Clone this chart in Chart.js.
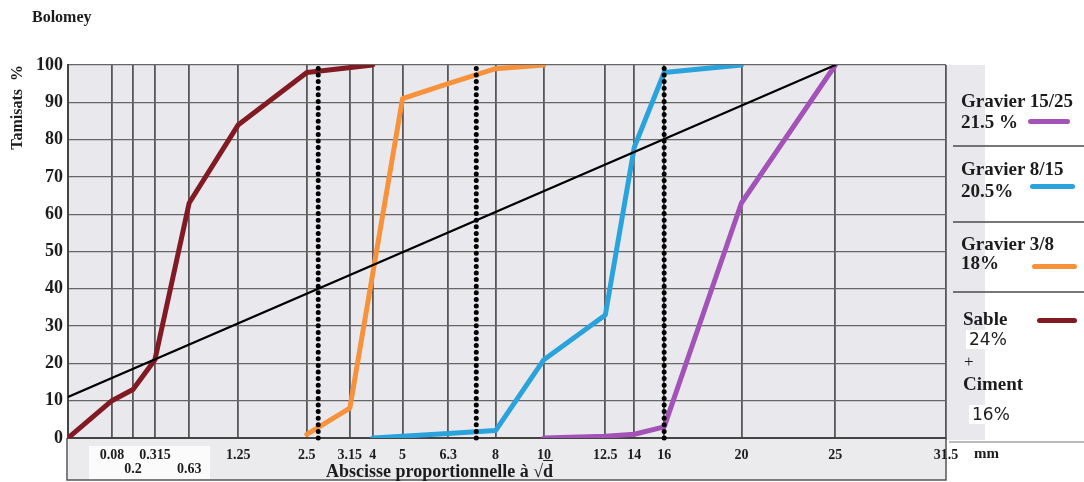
<!DOCTYPE html>
<html lang="fr">
<head>
<meta charset="utf-8">
<title>Bolomey</title>
<script src="https://cdn.jsdelivr.net/npm/chart.js@4.4.1/dist/chart.umd.min.js"></script>
<style>
html, body { margin: 0; padding: 0; background: #fff; }
#wrap { position: relative; width: 1084px; height: 482px; overflow: hidden; }
#wrap canvas { position: absolute; left: 0; top: 0; }
.t { position: absolute; white-space: nowrap; line-height: 1; color: #1c1c1c;
     font-family: "Liberation Serif", "Times New Roman", serif; font-weight: bold; }
.s { font-family: "DejaVu Sans", sans-serif; font-weight: normal; background: #fff; padding: 1px 3px; }
.sw { position: absolute; height: 5px; border-radius: 3px; }
</style>
</head>
<body>
<div id="wrap">
  <canvas id="c" width="1084" height="482"></canvas>

  <div class="t" style="left:32px;top:9px;font-size:16px;">Bolomey</div>

  <div class="t" style="left:326px;top:462px;font-size:18px;">Abscisse proportionnelle à √<span style="text-decoration:overline;">d</span></div>
  <div class="t" style="left:974px;top:446px;font-size:15px;">mm</div>

  <!-- legend panel -->
  <div class="t" style="left:961px;top:91px;font-size:19px;">Gravier 15/25</div>
  <div class="t" style="left:961px;top:112px;font-size:19px;">21.5 %</div>
  <div class="sw" style="left:1028px;top:119px;width:42px;background:#a352b8;"></div>

  <div class="t" style="left:961px;top:159px;font-size:19px;">Gravier 8/15</div>
  <div class="t" style="left:961px;top:181px;font-size:19px;">20.5%</div>
  <div class="sw" style="left:1030px;top:184px;width:45px;background:#2aa3dc;"></div>

  <div class="t" style="left:961px;top:234px;font-size:19px;">Gravier 3/8</div>
  <div class="t" style="left:961px;top:253px;font-size:19px;">18%</div>
  <div class="sw" style="left:1032px;top:264px;width:45px;background:#f7923a;"></div>

  <div class="t" style="left:963px;top:309px;font-size:19px;">Sable</div>
  <div class="sw" style="left:1037px;top:318px;width:40px;background:#821a24;"></div>
  <div class="t s" style="left:966px;top:330px;font-size:17px;">24%</div>
  <div class="t" style="left:964px;top:353px;font-size:17px;font-weight:normal;">+</div>
  <div class="t" style="left:963px;top:374px;font-size:19px;">Ciment</div>
  <div class="t s" style="left:969px;top:405px;font-size:17px;">16%</div>
</div>

<script>
// Sieve openings (mm) and their place on the graph-paper abscissa (0 = origin, 100 = 31.5 mm)
const sieveSizes    = [0, 0.08, 0.2, 0.315, 0.63, 1.25, 2.5, 3.15, 4, 5, 6.3, 8, 10, 12.5, 14, 16, 20, 25, 31.5];
const sieveAbscissa = [0, 5.0, 7.4, 9.9, 13.8, 19.4, 27.2, 32.1, 34.7, 38.1, 43.3, 48.7, 54.2, 61.2, 64.5, 67.9, 76.7, 87.4, 100];
// labels printed on the second row under the axis
const lowerRowLabels = ['0.2', '0.63'];

// Cumulative passing (%) at each sieve; null where the curve has no reading
const sableCiment = [0, 10, 13, 21, 63, 84, 98, null, 100, null, null, null, null, null, null, null, null, null, null];
const gravier3_8  = [null, null, null, null, null, null, 1, 8, null, 91, 95, 99, 100, null, null, null, null, null, null];
const gravier8_15 = [null, null, null, null, null, null, null, null, 0, 0.5, 1.2, 2, 21, 33, 78, 98, 100, null, null];
const gravier15_25 = [null, null, null, null, null, null, null, null, null, null, null, null, 0, 0.5, 1, 3, 63, 100, null];
// Bolomey reference curve: straight line from the origin to D = 25 mm
const bolomeyRef  = [11, null, null, null, null, null, null, null, null, null, null, null, null, null, null, null, null, 100, null];

// Dividing lines between the fractions (abscissa units)
const separators = [28.5, 46.5, 67.9];

const yTicks = { min: 0, max: 100, step: 5, labelEvery: 10 };

function toPoints(values) {
  return sieveAbscissa.map((x, i) => ({ x, y: values[i] }));
}

function curve(label, values, color, width) {
  return {
    label,
    data: toPoints(values),
    borderColor: color,
    borderWidth: width,
    pointRadius: 0,
    tension: 0,
    spanGaps: true,
    borderJoinStyle: 'round',
    borderCapStyle: 'round',
    fill: false
  };
}

const separatorSets = separators.map(x => ({
  label: 'séparation',
  data: [{ x, y: yTicks.min }, { x, y: yTicks.max }],
  borderColor: '#000',
  borderWidth: 5,
  borderDash: [0, 6.6],
  borderCapStyle: 'round',
  pointRadius: 0,
  clip: false,
  fill: false
}));

const datasets = [
  ...separatorSets,
  curve('Bolomey', bolomeyRef, '#000', 2.2),
  curve('Gravier 15/25', gravier15_25, '#a352b8', 5),
  curve('Gravier 8/15', gravier8_15, '#2aa3dc', 5),
  curve('Gravier 3/8', gravier3_8, '#f7923a', 5),
  curve('Sable + Ciment', sableCiment, '#821a24', 5)
];

// paper background, label box under the axis and the legend frame
const paperPlugin = {
  id: 'paper',
  beforeDraw(chart) {
    const { ctx, chartArea: a } = chart;
    ctx.save();
    ctx.fillStyle = '#e9e9ed';
    ctx.fillRect(a.left, a.top, a.right - a.left, a.bottom - a.top);
    // box holding the abscissa labels
    ctx.fillStyle = '#ebebee';
    ctx.fillRect(a.left, a.bottom, a.right - a.left, 480 - a.bottom);
    ctx.fillStyle = '#fbfbfb';
    ctx.fillRect(89, a.bottom + 8, 121, 480 - a.bottom - 8);
    // grey strip along the legend
    ctx.fillStyle = '#e9e9ed';
    ctx.fillRect(a.right, a.top, 39, a.bottom - a.top + 2);
    ctx.strokeStyle = '#555';
    ctx.lineWidth = 1.5;
    ctx.beginPath();
    ctx.moveTo(a.left - 1, a.bottom); ctx.lineTo(a.left - 1, 480); ctx.lineTo(a.right, 480); ctx.lineTo(a.right, a.bottom);
    ctx.stroke();
    // legend separators
    ctx.lineWidth = 1.4;
    ctx.strokeStyle = '#4a4a4a';
    [146, 222, 292].forEach(y => {
      ctx.beginPath(); ctx.moveTo(953, y); ctx.lineTo(1084, y); ctx.stroke();
    });
    ctx.strokeStyle = '#777';
    ctx.lineWidth = 1.2;
    ctx.beginPath(); ctx.moveTo(a.right + 3, a.bottom + 4); ctx.lineTo(1084, a.bottom + 4); ctx.stroke();
    ctx.restore();
  }
};

new Chart(document.getElementById('c'), {
  type: 'line',
  data: { datasets },
  plugins: [paperPlugin],
  options: {
    responsive: false,
    animation: false,
    events: [],
    layout: { padding: { left: 0, top: 65, right: 138, bottom: 0 } },
    plugins: { legend: { display: false }, tooltip: { enabled: false }, title: { display: false } },
    scales: {
      x: {
        type: 'linear',
        min: 0,
        max: 100,
        afterFit(scale) { scale.height = 44; },
        afterBuildTicks(scale) { scale.ticks = sieveAbscissa.map(v => ({ value: v })); },
        grid: { color: '#575757', lineWidth: 1.8, drawTicks: false },
        border: { color: '#444', width: 2 },
        ticks: {
          autoSkip: false,
          maxRotation: 0,
          minRotation: 0,
          padding: 10,
          color: '#1c1c1c',
          font: { family: '"Liberation Serif", "Times New Roman", serif', size: 14, weight: 'bold', lineHeight: 1 },
          callback(value, index) {
            const label = index === 0 ? '' : String(sieveSizes[index]);
            return lowerRowLabels.includes(label) ? ['', label] : label;
          }
        }
      },
      y: {
        min: yTicks.min,
        max: yTicks.max,
        afterFit(scale) { scale.width = 68; },
        grid: { color: '#666', lineWidth: 1.3, drawTicks: false },
        border: { color: '#444', width: 2 },
        title: {
          display: true,
          text: 'Tamisats  %',
          align: 'end',
          padding: { top: 8, bottom: 0 },
          color: '#1c1c1c',
          font: { family: '"Liberation Serif", "Times New Roman", serif', size: 16, weight: 'bold' }
        },
        ticks: {
          stepSize: yTicks.step,
          padding: 5,
          color: '#1c1c1c',
          font: { family: '"Liberation Serif", "Times New Roman", serif', size: 18, weight: 'bold' },
          callback(value) { return value % yTicks.labelEvery === 0 ? String(value) : ''; }
        }
      }
    }
  }
});
</script>
</body>
</html>
